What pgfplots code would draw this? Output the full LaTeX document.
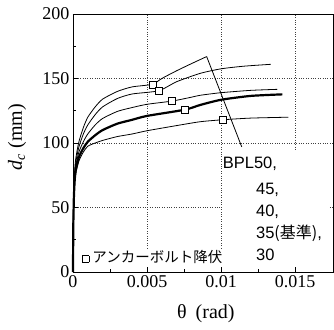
\documentclass[border=0pt]{standalone}
\usepackage{fontspec}
\setmainfont{Liberation Serif}
\newfontfamily\jp{Noto Sans CJK JP}
\newfontfamily\ar{Liberation Sans}
\usepackage{pgfplots}
\pgfplotsset{compat=1.18}
\usetikzlibrary{calc}
\begin{document}
\begin{tikzpicture}
\begin{axis}[
  scale only axis, width=260.5pt, height=258pt,
  xmin=0, xmax=0.0176, ymin=0, ymax=200,
  scaled x ticks=false, scaled y ticks=false,
  xtick={0,0.005,0.01,0.015}, xticklabels={0,0.005,0.01,0.015},
  ytick={0,50,100,150,200}, yticklabels={0,50,100,150,200},
  minor xtick={0.0025,0.0075,0.0125}, minor ytick={25,75,125,175},
  xtick pos=left, ytick pos=left,
  tick align=inside, major tick length=5pt, minor tick length=3.5pt,
  grid=major, major grid style={dotted, black!75, line width=0.6pt},
  axis line style={line width=0.9pt}, tick style={black, line width=0.7pt},
  ticklabel style={font=\fontsize{18}{20}\selectfont},
  xlabel={θ\hspace{0.45em}(rad)},
  ylabel={{\itshape d}\textsubscript{\itshape c} (mm)},
  label style={font=\fontsize{20}{22}\selectfont},
  xlabel style={at={(axis description cs:0.51,-0.182)}, anchor=base},
  ylabel style={at={(axis description cs:-0.215,0.523)}, anchor=center},
  clip=false,
]
% BPL50
\addplot[black, line width=0.8pt, smooth, tension=0.4] coordinates {
 (0,0) (0.00002,40) (0.00006,65) (0.00012,80) (0.0002,89) (0.0004,101) (0.0007,112) (0.001,120) (0.0015,128) (0.002,134) (0.003,140) (0.004,143.5) (0.00536,145.5) (0.006,150) (0.007,156) (0.008,161.5) (0.00903,167)};
% BPL45
\addplot[black, line width=0.8pt, smooth, tension=0.4] coordinates {
 (0,0) (0.00002,38) (0.00006,62) (0.00012,77) (0.0002,86) (0.0004,97) (0.0007,107) (0.001,114) (0.0015,122) (0.002,128) (0.003,134.5) (0.004,138) (0.00579,140.5) (0.007,147.5) (0.0086,154) (0.010,157.5) (0.0115,159.5) (0.01336,161)};
% BPL40
\addplot[black, line width=0.8pt, smooth, tension=0.4] coordinates {
 (0,0) (0.00002,36) (0.00006,60) (0.00012,75) (0.0002,83) (0.0004,93) (0.0007,101) (0.001,107) (0.0015,114) (0.002,119) (0.003,124.5) (0.004,127.5) (0.005,130) (0.00669,132.5) (0.008,135.5) (0.0086,137) (0.010,139) (0.012,140.8) (0.0138,141.6)};
% BPL35 (reference, thick)
\addplot[black, line width=2.2pt, smooth, tension=0.4] coordinates {
 (0,0) (0.00002,35) (0.00006,58) (0.00012,72) (0.0002,80) (0.0004,89) (0.0007,96) (0.001,101) (0.0015,106) (0.002,110) (0.003,115) (0.004,118) (0.005,121) (0.00755,125.8) (0.0086,129.5) (0.010,133.5) (0.012,136.5) (0.01414,137.7)};
% BPL30
\addplot[black, line width=0.8pt, smooth, tension=0.4] coordinates {
 (0,0) (0.00002,34) (0.00006,56) (0.00012,70) (0.0002,77) (0.0004,86) (0.0007,93) (0.001,97.5) (0.0015,100) (0.002,102) (0.003,105) (0.004,107) (0.005,109.5) (0.007,113.5) (0.0086,116.5) (0.0101,118) (0.012,119.3) (0.01455,120)};
% diagonal line
\addplot[black, line width=0.8pt] coordinates {(0.00903,167) (0.0114,97)};
% anchor bolt yield markers
\addplot[only marks, mark=square*, mark size=3.5pt, mark options={fill=white, draw=black, line width=0.6pt}] coordinates {
 (0.00536,145.5) (0.00579,140.5) (0.00669,132.5) (0.00755,125.8) (0.0101,118)};
% white boxes behind annotations
\fill[white] (axis cs:0.01005,4.8) rectangle (axis cs:0.01723,94.6);
\fill[white] (axis cs:0.00034,4.8) rectangle (axis cs:0.01047,17.8);
\node[anchor=base west, inner sep=0pt, font=\ar\fontsize{16.5}{18}\selectfont] at (axis cs:0.01011,80.4) {BPL50,};
\node[anchor=base west, inner sep=0pt, font=\ar\fontsize{16.5}{18}\selectfont] at (axis cs:0.01236,59.7) {45,};
\node[anchor=base west, inner sep=0pt, font=\ar\fontsize{16.5}{18}\selectfont] at (axis cs:0.01236,42.9) {40,};
\node[anchor=base west, inner sep=0pt, font=\ar\fontsize{16.5}{18}\selectfont] at (axis cs:0.01236,25.6) {35{\jp\fontsize{16}{18}\selectfont (基準)},};
\node[anchor=base west, inner sep=0pt, font=\ar\fontsize{16.5}{18}\selectfont] at (axis cs:0.01236,9.3) {30};
\node[anchor=base west, inner sep=0pt, font=\jp\fontsize{14.5}{16}\selectfont] at (axis cs:0.00061,7) {{\setlength{\fboxsep}{0pt}\setlength{\fboxrule}{0.6pt}\raisebox{1pt}{\fbox{\rule{0pt}{6pt}\hspace{6pt}}}}\hspace{3pt}アンカーボルト降伏};
\end{axis}
\pgfresetboundingbox
\path ($(current axis.south west)+(-73pt,-57pt)$) rectangle ($(current axis.north east)+(0.5pt,14pt)$);
\end{tikzpicture}
\end{document}
